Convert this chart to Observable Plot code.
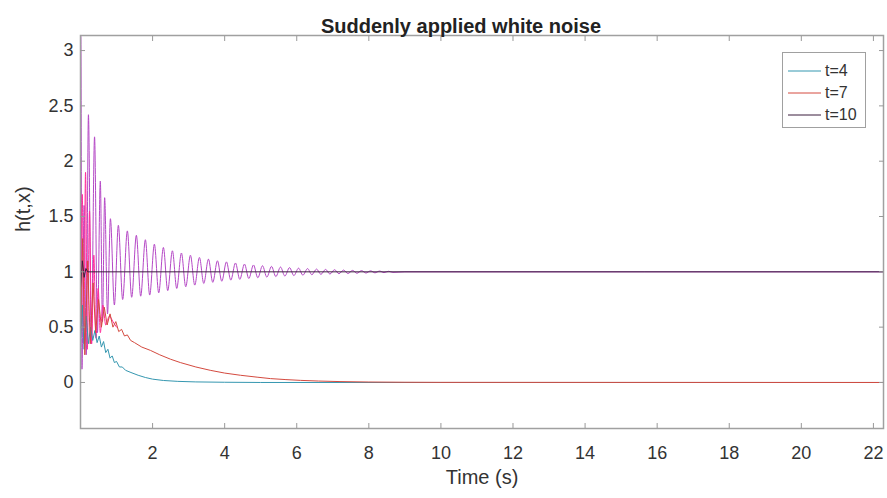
<!DOCTYPE html>
<html>
<head>
<meta charset="utf-8">
<script src="https://cdn.jsdelivr.net/npm/d3@7"></script>
<script src="https://cdn.jsdelivr.net/npm/@observablehq/plot@0.6"></script>
<style>
  body { margin: 0; background: #fff; }
  #wrap { position: relative; width: 887px; height: 498px; font-family: "Liberation Sans", Arial, sans-serif; }
  #legend { position: absolute; left: 782px; top: 52px; width: 84px; height: 76px; border: 1px solid #a0a0a0; background: #fff; box-sizing: border-box; }
  .row { position: absolute; left: 5px; height: 20px; display: flex; align-items: center; font-size: 16px; color: #333; }
  .row svg { margin-right: 4px; }
</style>
</head>
<body>
<div id="wrap"></div>
<script>
// ---- data ----
const xTicks = [2, 4, 6, 8, 10, 12, 14, 16, 18, 20, 22];
const yTicks = [0, 0.5, 1, 1.5, 2, 2.5, 3];
const yTickLabels = ["0", "0.5", "1", "1.5", "2", "2.5", "3"];

const seriesNames = ["t=4", "t=7", "t=10"];
const seriesColors = ["#3597b0", "#d44a3f", "#3a1d3c"];
const extraColors = ["#b548c6", "#ff2d9b"];

// t=4
const tealT = [0.00, 0.05, 0.10, 0.16, 0.22, 0.28, 0.34, 0.40, 0.46, 0.52, 0.58, 0.64, 0.70, 0.76, 0.82, 0.88, 0.94, 1.00, 1.08, 1.16, 1.25, 1.40, 1.60, 1.80, 2.00, 2.30, 2.70, 3.20, 4.00, 5.00, 22.28];
const tealH = [0.35, 0.70, 0.30, 0.60, 0.35, 0.50, 0.38, 0.47, 0.36, 0.42, 0.32, 0.37, 0.27, 0.30, 0.22, 0.24, 0.18, 0.19, 0.14, 0.14, 0.11, 0.09, 0.065, 0.045, 0.03, 0.018, 0.01, 0.005, 0.002, 0.0, 0.0];

// t=7
const redT = [0.00, 0.06, 0.12, 0.20, 0.27, 0.35, 0.42, 0.50, 0.58, 0.66, 0.74, 0.82, 0.90, 0.98, 1.06, 1.14, 1.22, 1.30, 1.39, 1.50, 1.70, 1.94, 2.20, 2.50, 2.77, 3.20, 3.60, 4.00, 4.44, 4.90, 5.27, 5.70, 6.10, 6.60, 7.20, 8.00, 9.00, 10.00, 22.28];
const redH = [0.40, 1.30, 0.25, 1.10, 0.35, 0.90, 0.45, 0.75, 0.50, 0.68, 0.52, 0.62, 0.50, 0.55, 0.46, 0.48, 0.42, 0.43, 0.38, 0.36, 0.32, 0.29, 0.25, 0.21, 0.18, 0.14, 0.11, 0.085, 0.065, 0.048, 0.035, 0.026, 0.019, 0.013, 0.008, 0.004, 0.002, 0.001, 0.0];

// t=10
const darkT = [0.00, 0.05, 0.10, 0.15, 0.20, 22.28];
const darkH = [0.85, 1.10, 0.95, 1.03, 1.00, 1.00];

// oscillating series (not in legend)
const magT = [0.00, 0.01, 0.04, 0.10, 0.16, 0.22, 0.30, 0.39, 0.47, 0.55, 0.61, 0.67, 0.75, 0.83, 0.94, 1.05, 1.17, 1.30, 1.42, 1.55, 1.67, 1.80, 1.92, 2.05, 2.17, 2.30, 2.42, 2.55, 2.67, 2.80, 2.92, 3.05, 3.17, 3.30, 3.42, 3.55, 3.67, 3.80, 3.92, 4.05, 4.17, 4.30, 4.42, 4.55, 4.67, 4.80, 4.92, 5.05, 5.17, 5.30, 5.42, 5.55, 5.67, 5.80, 5.92, 6.05, 6.17, 6.30, 6.42, 6.55, 6.67, 6.80, 6.92, 7.05, 7.17, 7.30, 7.42, 7.55, 7.67, 7.80, 7.92, 8.05, 8.17, 8.30, 8.42, 8.55, 8.67, 9.00, 22.28];
const magH = [3.13, 3.13, 0.12, 1.60, 0.25, 2.42, 0.35, 2.22, 0.45, 1.82, 0.55, 1.67, 0.62, 1.48, 0.70, 1.42, 0.75, 1.37, 0.77, 1.33, 0.78, 1.29, 0.79, 1.25, 0.81, 1.22, 0.83, 1.19, 0.85, 1.17, 0.865, 1.15, 0.88, 1.13, 0.895, 1.115, 0.905, 1.10, 0.915, 1.09, 0.925, 1.08, 0.932, 1.07, 0.94, 1.062, 0.946, 1.055, 0.952, 1.049, 0.957, 1.043, 0.962, 1.038, 0.966, 1.033, 0.970, 1.029, 0.974, 1.025, 0.977, 1.022, 0.980, 1.019, 0.983, 1.016, 0.985, 1.013, 0.987, 1.011, 0.989, 1.009, 0.991, 1.007, 0.993, 1.005, 0.995, 1.000, 1.000];

// early pink burst
const pinkT = [0.00, 0.05, 0.09, 0.14, 0.19, 0.25, 0.31, 0.37, 0.43, 0.49, 0.55, 0.62, 0.70, 0.80, 0.90, 1.00];
const pinkH = [0.60, 1.70, 0.35, 1.90, 0.30, 1.55, 0.35, 1.15, 0.40, 0.85, 0.45, 0.70, 0.52, 0.60, 0.55, 0.50];

const rows = (T, H) => T.map((t, i) => ({t, h: H[i]}));

const chart = Plot.plot({
  width: 887,
  height: 498,
  marginLeft: 80,
  marginRight: 4,
  marginTop: 35,
  marginBottom: 70,
  style: {fontFamily: "Liberation Sans, Arial, sans-serif", fontSize: "18px", color: "#333", background: "#fff"},
  x: {domain: [0, 22.28], label: null},
  y: {domain: [-0.416, 3.136], label: null},
  marks: [
    Plot.line(rows(magT, magH), {x: "t", y: "h", stroke: extraColors[0], strokeWidth: 1, curve: "monotone-x"}),
    Plot.line(rows(pinkT, pinkH), {x: "t", y: "h", stroke: extraColors[1], strokeWidth: 1, curve: "monotone-x"}),
    Plot.line(rows(tealT, tealH), {x: "t", y: "h", stroke: seriesColors[0], strokeWidth: 1}),
    Plot.line(rows(redT, redH), {x: "t", y: "h", stroke: seriesColors[1], strokeWidth: 1}),
    Plot.line(rows(darkT, darkH), {x: "t", y: "h", stroke: seriesColors[2], strokeWidth: 1}),
    Plot.frame({stroke: "#a0a0a0", strokeWidth: 1.5}),
    Plot.axisX({anchor: "bottom", ticks: xTicks, tickSize: -5, tickPadding: 23, label: null, stroke: "#999", fontSize: 18}),
    Plot.axisX({anchor: "top", ticks: xTicks, tickSize: -5, tickFormat: () => "", label: null, stroke: "#999"}),
    Plot.axisY({anchor: "left", ticks: yTicks, tickSize: -5, tickPadding: 12, tickFormat: d => yTickLabels[yTicks.indexOf(d)], label: null, stroke: "#999", fontSize: 18}),
    Plot.axisY({anchor: "right", ticks: yTicks, tickSize: -5, tickFormat: () => "", label: null, stroke: "#999"}),
    Plot.text(["Suddenly applied white noise"], {text: d => d, frameAnchor: "top", dx: -21, dy: -17, fontWeight: "bold", fontSize: 20, fill: "#222"}),
    Plot.text(["h(t,x)"], {text: d => d, frameAnchor: "left", dx: -57, rotate: -90, fontSize: 20, fill: "#333"}),
    Plot.text(["Time (s)"], {text: d => d, frameAnchor: "bottom", dy: 55, fontSize: 20, fill: "#333"})
  ]
});

const wrap = document.getElementById("wrap");
wrap.appendChild(chart);

const legend = document.createElement("div");
legend.id = "legend";
seriesNames.forEach((name, i) => {
  const r = document.createElement("div");
  r.className = "row";
  r.style.top = (8 + i * 22) + "px";
  r.innerHTML = `<svg width="33" height="4"><line x1="0" x2="33" y1="2" y2="2" stroke="${seriesColors[i]}" stroke-width="1"/></svg>`;
  r.appendChild(document.createTextNode(name));
  legend.appendChild(r);
});
wrap.appendChild(legend);
</script>
</body>
</html>
